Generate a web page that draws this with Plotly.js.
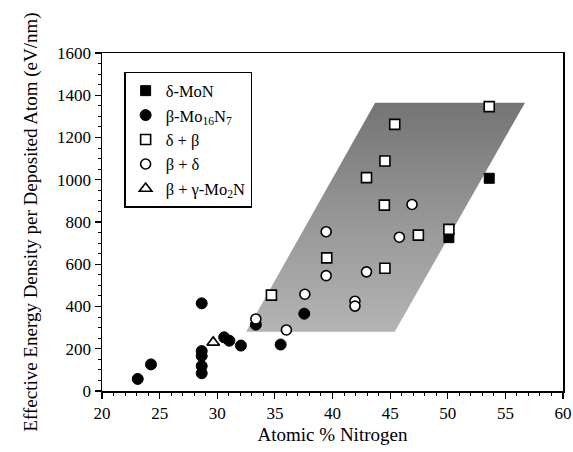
<!DOCTYPE html>
<html>
<head>
<meta charset="utf-8">
<script src="https://cdn.plot.ly/plotly-3.0.1.min.js"></script>
<style>html,body{margin:0;padding:0;background:#fff;}#chart{width:573px;height:452px;}</style>
</head>
<body>
<div id="chart"></div>
<script>
// Shaded region (parallelogram) corners
const regionX = [32.5, 45.4, 56.7, 43.7, 32.5];
const regionY = [280, 280, 1365, 1365, 280];

// delta-MoN (filled squares)
const deltaMoN_x = [53.6, 50.1];
const deltaMoN_y = [1007, 726];

// beta-Mo16N7 (filled circles)
const betaMo16N7_x = [23.1, 24.25, 28.65, 28.65, 28.65, 28.65, 28.65, 30.6, 31.05, 32.05, 33.35, 35.5, 37.55];
const betaMo16N7_y = [57, 126, 415, 189, 166, 118, 84, 254, 238, 215, 314, 220, 366];

// delta + beta (open squares)
const deltaBeta_x = [53.6, 45.4, 44.55, 42.95, 44.5, 47.45, 50.1, 39.5, 44.55, 34.7];
const deltaBeta_y = [1346, 1262, 1089, 1010, 880, 738, 765, 630, 581, 454];

// beta + delta (open circles)
const betaDelta_x = [46.9, 39.45, 45.8, 39.45, 42.95, 37.6, 41.95, 41.95, 33.35, 36.0];
const betaDelta_y = [883, 754, 728, 546, 564, 458, 425, 402, 341, 289];

// beta + gamma-Mo2N (open triangle)
const betaGamma_x = [29.65];
const betaGamma_y = [230];

const names = ["δ-MoN", "β-Mo<sub>16</sub>N<sub>7</sub>", "δ + β", "β + δ", "β + γ-Mo<sub>2</sub>N"];

const serif = "Liberation Serif, Times New Roman, serif";

const traces = [
  {
    x: regionX, y: regionY, mode: "lines", fill: "toself",
    line: {width: 0, color: "rgba(0,0,0,0)"},
    fillgradient: {type: "vertical", colorscale: [[0, "#b4b4b4"], [0.5, "#969696"], [1, "#747474"]]},
    fillcolor: "#999",
    showlegend: false, hoverinfo: "skip"
  },
  {x: deltaMoN_x, y: deltaMoN_y, name: names[0], mode: "markers",
   marker: {symbol: "square", size: 10, color: "#000", line: {color: "#000", width: 1}}},
  {x: betaMo16N7_x, y: betaMo16N7_y, name: names[1], mode: "markers",
   marker: {symbol: "circle", size: 11, color: "#000", line: {color: "#000", width: 1}}},
  {x: deltaBeta_x, y: deltaBeta_y, name: names[2], mode: "markers",
   marker: {symbol: "square", size: 10, color: "#fff", line: {color: "#000", width: 1.6}}},
  {x: betaDelta_x, y: betaDelta_y, name: names[3], mode: "markers",
   marker: {symbol: "circle", size: 10, color: "#fff", line: {color: "#000", width: 1.6}}},
  {x: betaGamma_x, y: betaGamma_y, name: names[4], mode: "markers",
   marker: {symbol: "triangle-up", size: 11, color: "#fff", line: {color: "#000", width: 1.6}}}
];

const layout = {
  width: 573, height: 452,
  margin: {l: 102, r: 10, t: 53, b: 61},
  paper_bgcolor: "#fff", plot_bgcolor: "#fff",
  font: {family: serif, color: "#000", size: 17},
  showlegend: true,
  legend: {
    x: 0.048, y: 0.944, xanchor: "left", yanchor: "top",
    bordercolor: "#000", borderwidth: 1.5, bgcolor: "#fff",
    font: {family: serif, size: 16.5, color: "#000"},
    traceorder: "normal"
  },
  xaxis: {
    range: [20, 60], dtick: 5, tick0: 20,
    showgrid: false, zeroline: false,
    showline: true, linecolor: "#000", linewidth: 1.5, mirror: true,
    ticks: "outside", ticklen: 6, tickwidth: 1.2, tickcolor: "#000",
    minor: {dtick: 1, ticks: "outside", ticklen: 3, tickcolor: "#000", tickwidth: 1, showgrid: false},
    tickfont: {family: serif, size: 17, color: "#000"},
    title: {text: "Atomic % Nitrogen", font: {family: serif, size: 19, color: "#000"}, standoff: 6}
  },
  yaxis: {
    range: [0, 1600], dtick: 200, tick0: 0,
    showgrid: false, zeroline: false,
    showline: true, linecolor: "#000", linewidth: 1.5, mirror: true,
    ticks: "outside", ticklen: 6, tickwidth: 1.2, tickcolor: "#000",
    minor: {dtick: 50, ticks: "outside", ticklen: 3, tickcolor: "#000", tickwidth: 1, showgrid: false},
    tickfont: {family: serif, size: 17, color: "#000"},
    title: {text: "Effective Energy Density per Deposited Atom (eV/nm)", font: {family: serif, size: 19, color: "#000"}, standoff: 14}
  }
};

Plotly.newPlot("chart", traces, layout, {displayModeBar: false, staticPlot: true});
</script>
</body>
</html>
